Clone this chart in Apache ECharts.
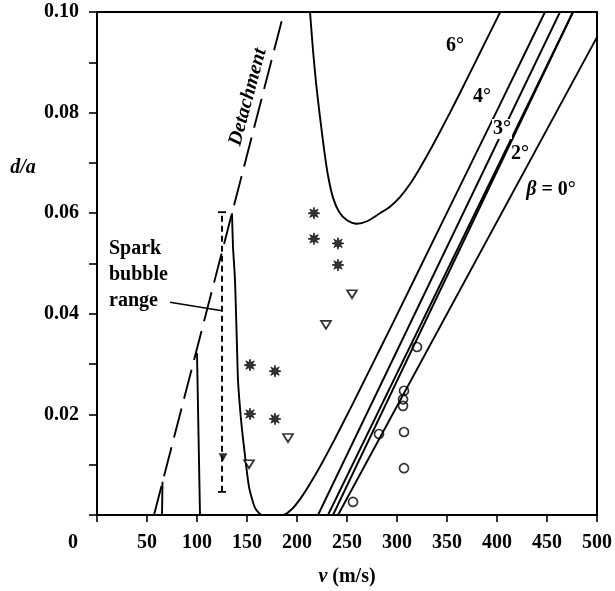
<!DOCTYPE html>
<html>
<head>
<meta charset="utf-8">
<script src="https://cdn.jsdelivr.net/npm/echarts@6/dist/echarts.min.js"></script>
<style>html,body{margin:0;padding:0;background:#fff;}#c{width:615px;height:591px;}</style>
</head>
<body>
<div id="c"></div>
<script>
// ---- data (v in m/s, d/a) ----
const xTickLabels = ['0','50','100','150','200','250','300','350','400','450','500'];
const yTickLabels = ['0.02','0.04','0.06','0.08','0.10'];

const detachment = [[57,0],[187,0.1]];
const curve6 = [[213,0.1],[216,0.0924],[219,0.086],[223,0.0791],[227,0.0728],[231,0.0675],[236,0.0631],[242,0.0603],[250,0.0586],[260,0.0579],[270,0.0584],[283,0.0600],[293,0.0613],[303,0.0632],[313,0.0658],[323,0.0690],[333,0.0725],[343,0.0762],[353,0.0800],[363,0.0839],[373,0.0879],[383,0.0919],[393,0.0959],[403,0.0999]];
const curve4 = [[135,0.060],[136,0.0533],[138,0.0467],[140,0.0334],[141,0.0268],[144,0.019],[147,0.0135],[152,0.0056],[158,0.0014],[165,0],[186,0],[196,0.0014],[206,0.004],[216,0.0072],[226,0.0107],[236,0.0144],[246,0.0183],[256,0.0222],[266,0.0262],[276,0.0302],[286,0.0342],[296,0.0382],[350,0.0601],[400,0.0804],[448,0.1]];
const line3 = [[221,0],[463,0.1]];
const line2a = [[231,0],[476,0.1]];
const line2b = [[236,0],[476,0.1]];
const line0 = [[241,0],[500,0.095]];
const leftA = [[65,0],[65.5,0.0066]];
const leftB = [[103,0],[100,0.0322]];
const sparkRange = [[125,0.0046],[125,0.0602]];
const sparkLeader = [[73,0.0423],[125,0.0406]];

const asterisks = [[217,0.060],[217,0.0549],[241,0.054],[241,0.0497],[153,0.0298],[178,0.0286],[153,0.0201],[178,0.0191]];
const triangles = [[255,0.0439],[229,0.0378],[191,0.0153],[152,0.0101]];
const filledTri = [[126,0.0115]];
const circles = [[320,0.0334],[307,0.0247],[306,0.023],[306,0.0217],[307,0.0165],[307,0.0093],[282,0.0161],[256,0.0026]];

// ---- chart ----
function starPath(){
  let p = [];
  for (let i=0;i<16;i++){
    const a = i*Math.PI/8 - Math.PI/2;
    const r = (i%2===0)?10:4.5;
    p.push((i===0?'M':'L') + (10 + r*Math.cos(a)).toFixed(2) + ',' + (10 + r*Math.sin(a)).toFixed(2));
  }
  return 'path://' + p.join('') + 'Z';
}
const FONT = 'Liberation Serif';
const black = '#000';
function lineSeries(data, opts){
  return Object.assign({
    type:'line', data:data, showSymbol:false, symbol:'none', animation:false,
    lineStyle:{color:black, width:1.9}, z:3, silent:true
  }, opts||{});
}
const chart = echarts.init(document.getElementById('c'), null, {renderer:'canvas'});
const option = {
  animation:false,
  backgroundColor:'#fff',
  grid:{left:97, right:18, top:12, bottom:76, show:true, borderColor:black, borderWidth:2, backgroundColor:'transparent'},
  xAxis:{
    type:'value', min:0, max:500, interval:50,
    axisLine:{lineStyle:{color:black, width:2}},
    axisTick:{length:7, lineStyle:{color:black, width:1.6}},
    splitLine:{show:false},
    axisLabel:{
      color:black, fontFamily:FONT, fontSize:20, fontWeight:'bold', margin:18,
      formatter:function(v){ const i=Math.round(v/50); return i===0 ? '{z|'+xTickLabels[0]+'}' : xTickLabels[i]; },
      rich:{z:{padding:[0,48,0,0], fontFamily:FONT, fontSize:20, fontWeight:'bold', color:black}}
    }
  },
  yAxis:{
    type:'value', min:0, max:0.1, interval:0.01,
    axisLine:{lineStyle:{color:black, width:2}},
    axisTick:{length:8, lineStyle:{color:black, width:1.6}},
    splitLine:{show:false},
    axisLabel:{
      color:black, fontFamily:FONT, fontSize:20, fontWeight:'bold', margin:18,
      formatter:function(v){ const i=Math.round(v*100); return (i>0 && i%2===0) ? yTickLabels[i/2-1] : ''; }
    }
  },
  series:[
    lineSeries(detachment, {lineStyle:{color:black, width:1.9, type:[30,10]}}),
    lineSeries(curve6, {smooth:0.25}),
    lineSeries(curve4, {smooth:0.2}),
    lineSeries(line3),
    lineSeries(line2a),
    lineSeries(line2b),
    lineSeries(line0),
    lineSeries(leftA),
    lineSeries(leftB),
    lineSeries(sparkRange, {showSymbol:true, symbol:'rect', symbolSize:[8,1.8], itemStyle:{color:black}, lineStyle:{color:black, width:1.9, type:[6,4]}}),
    lineSeries(sparkLeader, {lineStyle:{color:black, width:1.4}}),
    {type:'scatter', data:asterisks, symbol:starPath(), symbolSize:12, itemStyle:{color:black, borderColor:black, borderWidth:0.8}, z:5, silent:true},
    {type:'scatter', data:triangles, symbol:'triangle', symbolRotate:180, symbolSize:[10,8], itemStyle:{color:'#fff', borderColor:black, borderWidth:1.7}, z:5, silent:true},
    {type:'scatter', data:filledTri, symbol:'triangle', symbolRotate:180, symbolSize:[9,8], itemStyle:{color:black}, z:5, silent:true},
    {type:'scatter', data:circles, symbol:'circle', symbolSize:9, itemStyle:{color:'rgba(255,255,255,0)', borderColor:black, borderWidth:1.7}, z:5, silent:true}
  ],
  graphic:[
    {type:'text', x:23, y:168, z:100, style:{text:'d/a', font:'italic bold 20px "Liberation Serif"', fill:black, textAlign:'center', textVerticalAlign:'middle'}},
    {type:'text', x:347, y:577, z:100, style:{text:'{i|v} (m/s)', font:'bold 20px "Liberation Serif"', fill:black, textAlign:'center', textVerticalAlign:'middle', rich:{i:{fontStyle:'italic', fontWeight:'bold', fontFamily:FONT, fontSize:20}}}},
    {type:'text', x:109, y:236, z:100, style:{text:'Spark\nbubble\nrange', font:'bold 20px "Liberation Serif"', lineHeight:26, fill:black, textAlign:'left', textVerticalAlign:'top'}},
    {type:'text', x:248, y:97, z:100, rotation:75*Math.PI/180, style:{text:'Detachment', font:'italic bold 20px "Liberation Serif"', fill:black, textAlign:'center', textVerticalAlign:'middle'}},
    {type:'text', x:455, y:46, z:100, style:{text:'6°', font:'bold 20px "Liberation Serif"', fill:black, textAlign:'center', textVerticalAlign:'middle'}},
    {type:'text', x:482, y:97, z:100, style:{text:'4°', font:'bold 20px "Liberation Serif"', fill:black, textAlign:'center', textVerticalAlign:'middle'}},
    {type:'text', x:502, y:129, z:100, style:{text:'3°', font:'bold 20px "Liberation Serif"', fill:black, textAlign:'center', textVerticalAlign:'middle', backgroundColor:'#fff', padding:[0,1]}},
    {type:'text', x:520, y:154, z:100, style:{text:'2°', font:'bold 20px "Liberation Serif"', fill:black, textAlign:'center', textVerticalAlign:'middle'}},
    {type:'text', x:551, y:190, z:100, style:{text:'{b|β} = 0°', font:'bold 20px "Liberation Serif"', fill:black, textAlign:'center', textVerticalAlign:'middle', rich:{b:{fontStyle:'italic', fontWeight:'bold', fontFamily:FONT, fontSize:20}}}}
  ]
};
chart.setOption(option);
</script>
</body>
</html>
